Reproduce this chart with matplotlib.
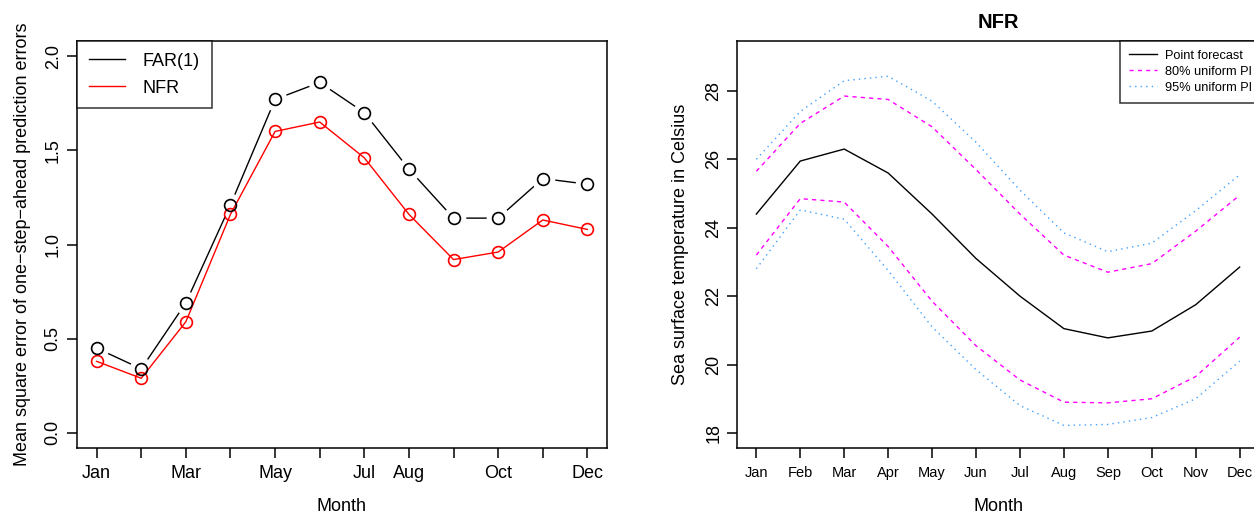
import numpy as np
import matplotlib
matplotlib.use("Agg")
import matplotlib.pyplot as plt

plt.rcParams['font.family'] = ['Liberation Sans', 'DejaVu Sans']

months = ["Jan", "Feb", "Mar", "Apr", "May", "Jun",
          "Jul", "Aug", "Sep", "Oct", "Nov", "Dec"]
left_shown = ["Jan", "Mar", "May", "Jul", "Aug", "Oct", "Dec"]

# left panel: MSE of one-step-ahead forecasts
far1 = [0.45, 0.34, 0.69, 1.21, 1.77, 1.86, 1.70, 1.40, 1.14, 1.14, 1.35, 1.32]
nfr = [0.38, 0.29, 0.59, 1.16, 1.60, 1.65, 1.46, 1.16, 0.92, 0.96, 1.13, 1.08]

# right panel: NFR forecast with uniform prediction intervals
point_fc = [24.40, 25.95, 26.30, 25.60, 24.40, 23.10, 22.00, 21.05, 20.78, 20.98, 21.75, 22.85]
pi80_up = [25.65, 27.05, 27.85, 27.75, 26.95, 25.70, 24.40, 23.20, 22.70, 22.95, 23.90, 24.95]
pi80_lo = [23.20, 24.85, 24.75, 23.45, 21.85, 20.55, 19.55, 18.90, 18.88, 19.00, 19.65, 20.80]
pi95_up = [26.00, 27.40, 28.30, 28.43, 27.70, 26.50, 25.10, 23.85, 23.30, 23.55, 24.50, 25.55]
pi95_lo = [22.80, 24.52, 24.25, 22.75, 21.10, 19.85, 18.80, 18.22, 18.25, 18.45, 19.00, 20.10]

x = np.arange(1, 13)
W, H = 1254, 515
fig = plt.figure(figsize=(W / 100, H / 100), dpi=100)


def r_style(ax):
    for s in ax.spines.values():
        s.set_linewidth(1.1)
        s.set_color("black")
    ax.tick_params(direction="out", length=7, width=1.1, color="black")
    plt.setp(ax.get_yticklabels(), rotation=90, va="center")


# ---- left panel ----
ax1 = fig.add_axes([77 / W, 1 - 448 / H, 530 / W, 407 / H])
ax1.plot(x, far1, color="black", lw=1.0, zorder=1)
ax1.plot(x, far1, ls="none", marker="o", ms=16, mfc="white", mec="white", zorder=2)
ax1.plot(x, nfr, color="red", lw=1.0, marker="o", ms=8.5, mfc="none", mew=1.2,
         zorder=3, label="NFR")
ax1.plot(x, far1, ls="none", marker="o", ms=8.5, mfc="none", mec="black", mew=1.2, zorder=4)
ax1.set_xlim(0.56, 12.44)
ax1.set_ylim(-0.08, 2.08)
ax1.set_yticks([0.0, 0.5, 1.0, 1.5, 2.0])
ax1.set_yticklabels(["0.0", "0.5", "1.0", "1.5", "2.0"], fontsize=13)
ax1.set_xticks(x)
ax1.set_xticklabels([m if m in left_shown else "" for m in months], fontsize=13)
ax1.tick_params(axis="x", pad=5)
ax1.tick_params(axis="y", pad=4)
ax1.set_xlabel("Month", fontsize=13, labelpad=12)
ax1.set_ylabel("Mean square error of one\u2212step\u2212ahead prediction errors",
               fontsize=13, labelpad=10)
h_far = plt.Line2D([], [], color="black", lw=1.0)
h_nfr = plt.Line2D([], [], color="red", lw=1.0)
leg1 = ax1.legend([h_far, h_nfr], ["FAR(1)", "NFR"], loc="upper left",
                  bbox_to_anchor=(0, 1), borderaxespad=0, fancybox=False,
                  edgecolor="black", fontsize=13, handlelength=2.0,
                  handletextpad=1.0, borderpad=0.65, labelspacing=0.55)
leg1.get_frame().set_linewidth(1.1)
r_style(ax1)

# ---- right panel ----
ax2 = fig.add_axes([737 / W, 1 - 448 / H, 522 / W, 407 / H])
ax2.plot(x, point_fc, color="black", lw=1.0, label="Point forecast")
ax2.plot(x, pi80_up, color="#FF00FF", lw=1.0, ls=(0, (3, 3)), label="80% uniform PI")
ax2.plot(x, pi80_lo, color="#FF00FF", lw=1.0, ls=(0, (3, 3)))
ax2.plot(x, pi95_up, color="#3FA0FF", lw=1.0, ls=(0, (1, 3)), label="95% uniform PI")
ax2.plot(x, pi95_lo, color="#3FA0FF", lw=1.0, ls=(0, (1, 3)))
ax2.set_xlim(0.56, 12.44)
ax2.set_ylim(17.56, 29.46)
ax2.set_yticks([18, 20, 22, 24, 26, 28])
ax2.set_yticklabels(["18", "20", "22", "24", "26", "28"], fontsize=13)
ax2.set_xticks(x)
ax2.set_xticklabels(months, fontsize=10.5)
ax2.tick_params(axis="x", pad=6)
ax2.set_xlabel("Month", fontsize=13, labelpad=13)
ax2.set_ylabel("Sea surface temperature in Celsius", fontsize=13, labelpad=12)
ax2.set_title("NFR", fontsize=14.5, fontweight="bold", pad=9)
leg2 = fig.legend(*ax2.get_legend_handles_labels(), loc="upper left",
                  bbox_to_anchor=(1120 / W, 1 - 41 / H), borderaxespad=0,
                  fancybox=False, edgecolor="black", fontsize=9.2,
                  handlelength=2.2, handletextpad=0.6, borderpad=0.7,
                  labelspacing=0.3)
leg2.get_frame().set_linewidth(1.1)
r_style(ax2)

fig.savefig("out.png", dpi=100)
